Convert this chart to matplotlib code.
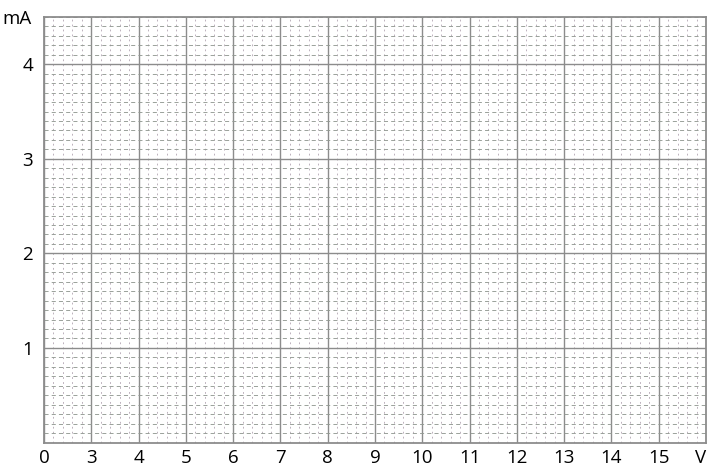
import matplotlib.pyplot as plt
import numpy as np
from matplotlib.ticker import MultipleLocator

# graph paper: volts on x (scale starts at 0, then jumps to 3), mA on y
x_labels = ['0', '3', '4', '5', '6', '7', '8', '9', '10', '11', '12', '13', '14', '15']
x_unit = 'V'
y_ticks = [1, 2, 3, 4]
y_unit = 'mA'
y_max = 4.5

plt.rcParams['font.family'] = ['Open Sans', 'DejaVu Sans']

fig = plt.figure(figsize=(7.23, 4.71), dpi=100)
ax = fig.add_axes([44 / 723, (471 - 442.5) / 471, (706 - 44) / 723, (442.5 - 17) / 471])

n = len(x_labels)
ax.set_xlim(0, n)
ax.set_ylim(0, y_max)

ax.xaxis.set_major_locator(MultipleLocator(1))
ax.xaxis.set_minor_locator(MultipleLocator(0.2))
ax.yaxis.set_major_locator(MultipleLocator(0.5))
ax.yaxis.set_minor_locator(MultipleLocator(0.1))

ax.grid(which='minor', axis='x', color='#b8acb8', lw=0.65, ls=(0, (2, 3.5)))
ax.grid(which='minor', axis='y', color='#939a93', lw=0.65, ls=(0, (4.5, 3.5)))
ax.grid(which='major', color='#8c8c8c', lw=1.0, ls='-')
ax.set_axisbelow(True)

for s in ax.spines.values():
    s.set_color('#8c8c8c')
    s.set_linewidth(1.3)

ax.tick_params(which='both', length=0)
ax.set_xticks(np.arange(n), x_labels)
ax.set_yticks(y_ticks, [str(v) for v in y_ticks])
ax.tick_params(axis='x', pad=5, labelsize=13.5)
ax.tick_params(axis='y', pad=8, labelsize=13.5)

ax.text(n - 0.12, -0.215, x_unit, ha='center', va='baseline', fontsize=13.5)
ax.text(-0.87, 4.43, y_unit, ha='left', va='baseline', fontsize=13.5, clip_on=False)

fig.savefig('out.png', dpi=100)
